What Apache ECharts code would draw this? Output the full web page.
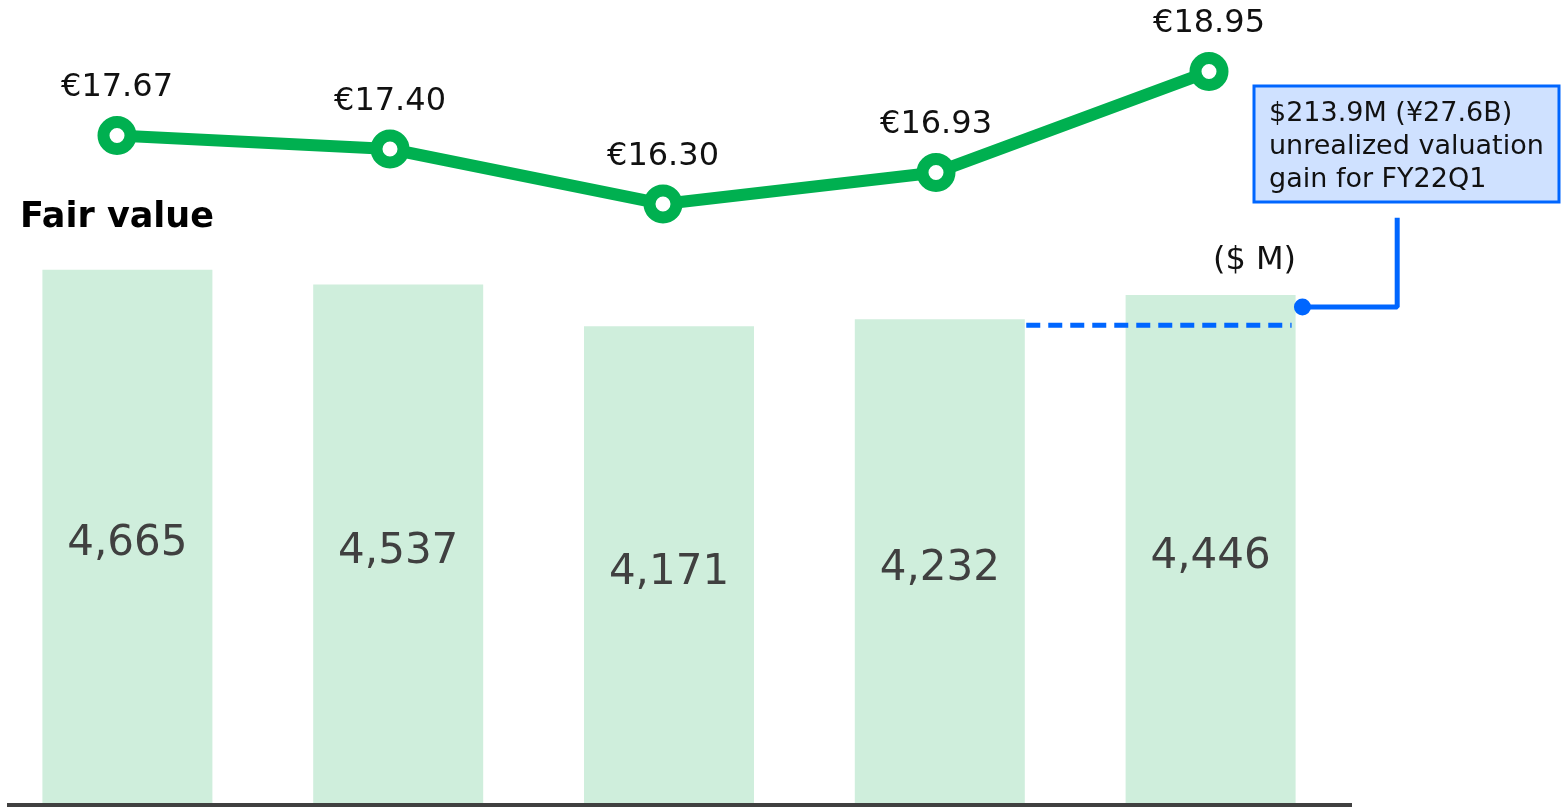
<!DOCTYPE html>
<html>
<head>
<meta charset="utf-8">
<script src="https://cdn.jsdelivr.net/npm/echarts@6/dist/echarts.min.js"></script>
<style>
  html, body { margin: 0; padding: 0; background: #fff; }
  #main { width: 1567px; height: 807px; }
</style>
</head>
<body>
<div id="main"></div>
<script>
// quarters (no labels shown on the axis)
var quarters = ['FY21Q1', 'FY21Q2', 'FY21Q3', 'FY21Q4', 'FY22Q1'];
// fair value, $ M
var fairValue = [4665, 4537, 4171, 4232, 4446];
// share price, EUR
var sharePrice = [17.67, 17.40, 16.30, 16.93, 18.95];
// previous-quarter level carried over to last bar (dashed)
var gainBase = [[3.32, 4180], [4.30, 4180]];
// connector from gain marker to the callout
var gainLink = [[4.34, 4341], [4.69, 4341], [4.69, 5120]];
var calloutText = '$213.9M (¥27.6B)\nunrealized valuation\ngain for FY22Q1';

var FONT = 'DejaVu Sans';
var chart = echarts.init(document.getElementById('main'));

var option = {
  animation: false,
  title: {
    text: 'Fair value',
    left: 15,
    top: 195,
    textStyle: { fontFamily: FONT, fontSize: 35, fontWeight: 'bold', color: '#000' }
  },
  grid: [
    // bars
    { left: -8, right: 221, top: 3, bottom: 4, outerBoundsMode: 'none' },
    // share price line
    { left: -19.5, right: 221.5, top: 19, height: 250, outerBoundsMode: 'none' },
    // overlay for the gain annotation (same y scale as bars, wider x range)
    { left: -8, width: 1624.5, top: 3, bottom: 4, outerBoundsMode: 'none' }
  ],
  xAxis: [
    { type: 'category', gridIndex: 0, data: quarters, show: false },
    { type: 'category', gridIndex: 1, data: quarters, show: false },
    { type: 'value', gridIndex: 2, min: -0.5, max: 5.5, show: false }
  ],
  yAxis: [
    { type: 'value', gridIndex: 0, min: 0, max: 7000, show: false },
    { type: 'value', gridIndex: 1, min: 15, max: 20, show: false },
    { type: 'value', gridIndex: 2, min: 0, max: 7000, show: false }
  ],
  series: [
    {
      type: 'bar',
      xAxisIndex: 0,
      yAxisIndex: 0,
      data: fairValue,
      barWidth: 170,
      itemStyle: { color: '#cfeedc' },
      label: {
        show: true,
        position: 'inside',
        offset: [0, 8],
        fontFamily: FONT,
        fontSize: 42,
        color: '#404040',
        formatter: function (p) { return p.value.toLocaleString('en-US'); }
      }
    },
    {
      type: 'line',
      xAxisIndex: 2,
      yAxisIndex: 2,
      data: gainBase,
      symbol: 'none',
      z: 3,
      lineStyle: { color: '#0066ff', width: 5, type: [14, 8] }
    },
    {
      type: 'line',
      xAxisIndex: 2,
      yAxisIndex: 2,
      data: gainLink,
      symbol: function (v, p) { return p.dataIndex === 0 ? 'circle' : 'none'; },
      symbolSize: 17,
      z: 3,
      itemStyle: { color: '#0066ff' },
      lineStyle: { color: '#0066ff', width: 5 }
    },
    {
      type: 'line',
      xAxisIndex: 1,
      yAxisIndex: 1,
      data: sharePrice,
      symbol: 'circle',
      symbolSize: 27,
      clip: false,
      z: 4,
      lineStyle: { color: '#00b050', width: 12 },
      itemStyle: { color: '#fff', borderColor: '#00b050', borderWidth: 12 },
      label: {
        show: true,
        position: 'top',
        distance: 12,
        fontFamily: FONT,
        fontSize: 32,
        color: '#111',
        formatter: function (p) { return '€' + p.value.toFixed(2); }
      }
    }
  ],
  graphic: [
    {
      type: 'line',
      shape: { x1: 7, y1: 805, x2: 1352, y2: 805 },
      style: { stroke: '#404040', lineWidth: 4 }
    },
    {
      type: 'text',
      right: 1567 - 1296,
      top: 245,
      style: { text: '($ M)', font: '32px "DejaVu Sans"', fill: '#111' }
    },
    {
      type: 'rect',
      shape: { x: 1254, y: 86, width: 305, height: 116 },
      style: { fill: '#cfe1ff', stroke: '#0066ff', lineWidth: 3 }
    },
    {
      type: 'text',
      left: 1269,
      top: 97,
      style: { text: calloutText, font: '27px "DejaVu Sans"', lineHeight: 33, fill: '#111' }
    }
  ]
};

chart.setOption(option);
</script>
</body>
</html>
